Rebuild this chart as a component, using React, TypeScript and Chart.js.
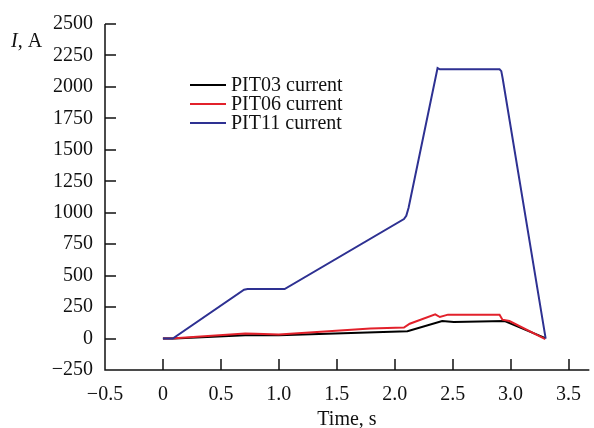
import React, { useEffect, useRef } from "react";
import { Chart, registerables } from "chart.js";

Chart.register(...registerables);

// ---- data ----
const pit03Time = [0, 0.1, 0.71, 1.0, 2.11, 2.41, 2.51, 2.95, 3.3];
const pit03Current = [0, 0, 26, 26, 58, 139, 131, 139, 3];

const pit06Time = [0, 0.1, 0.71, 0.8, 1.0, 1.79, 2.08, 2.13, 2.35, 2.39, 2.46, 2.905, 2.93, 2.99, 3.3];
const pit06Current = [0, 2, 40, 38, 32, 79, 87, 118, 192, 171, 190, 190, 150, 139, -5];

const pit11Time = [0, 0.085, 0.7, 0.73, 1.05, 2.08, 2.1, 2.12, 2.37, 2.39, 2.905, 2.92, 2.932, 3.303];
const pit11Current = [0, 0, 388, 393, 393, 950, 975, 1040, 2150, 2140, 2140, 2125, 2067, 0];

const seriesLabels = ["PIT03 current", "PIT06 current", "PIT11 current"];
const seriesColors = ["#000000", "#e2212b", "#2e3192"];

const xTickValues = [-0.5, 0, 0.5, 1.0, 1.5, 2.0, 2.5, 3.0, 3.5];
const yTickValues = [-250, 0, 250, 500, 750, 1000, 1250, 1500, 1750, 2000, 2250, 2500];

const xTitle = "Time, s";
const yTitleItalic = "I";
const yTitleRest = ", A";

const FONT_FAMILY = "'Liberation Serif', 'Times New Roman', serif";
const FONT_SIZE = 20;

function fmtX(v: number): string {
  if (v === 0) return "0";
  const s = Math.abs(v).toFixed(1);
  return v < 0 ? "\u2212" + s : s;
}
function fmtY(v: number): string {
  return v < 0 ? "\u2212" + Math.abs(v) : String(v);
}

function pts(t: number[], v: number[]) {
  return t.map((x, i) => ({ x, y: v[i] }));
}

const decorPlugin = {
  id: "decor",
  afterDraw(chart: any) {
    const { ctx, chartArea, scales } = chart;
    const xs = scales.x;
    const ys = scales.y;
    const left = chartArea.left;
    const bottom = chartArea.bottom;
    const tickLen = 11;
    ctx.save();
    ctx.strokeStyle = "#111";
    ctx.lineWidth = 1.5;
    ctx.beginPath();
    ctx.moveTo(left, ys.getPixelForValue(yTickValues[yTickValues.length - 1]));
    ctx.lineTo(left, bottom);
    ctx.lineTo(chartArea.right, bottom);
    ctx.stroke();
    ctx.beginPath();
    for (const v of yTickValues) {
      if (v === yTickValues[0]) continue;
      const py = Math.round(ys.getPixelForValue(v));
      ctx.moveTo(left, py);
      ctx.lineTo(left + tickLen, py);
    }
    for (const v of xTickValues) {
      if (v === xTickValues[0]) continue;
      const px = Math.round(xs.getPixelForValue(v));
      ctx.moveTo(px, bottom);
      ctx.lineTo(px, bottom - tickLen);
    }
    ctx.stroke();

    // legend
    ctx.font = `${FONT_SIZE}px ${FONT_FAMILY}`;
    ctx.textBaseline = "middle";
    ctx.textAlign = "left";
    const lx0 = 190, lx1 = 226, tx = 231, ly0 = 85, dy = 19;
    chart.data.datasets.forEach((ds: any, i: number) => {
      const y = ly0 + i * dy;
      ctx.strokeStyle = ds.borderColor;
      ctx.lineWidth = 2;
      ctx.beginPath();
      ctx.moveTo(lx0, y);
      ctx.lineTo(lx1, y);
      ctx.stroke();
      ctx.fillStyle = "#111";
      ctx.fillText(ds.label, tx, y + 1);
    });

    // y title
    ctx.textBaseline = "alphabetic";
    ctx.font = `italic ${FONT_SIZE}px ${FONT_FAMILY}`;
    ctx.fillText(yTitleItalic, 11, 47);
    const w = ctx.measureText(yTitleItalic).width;
    ctx.font = `${FONT_SIZE}px ${FONT_FAMILY}`;
    ctx.fillText(yTitleRest, 11 + w, 47);

    // x title
    ctx.textAlign = "center";
    ctx.fillText(xTitle, 347, 425);
    ctx.restore();
  },
};

export default function App() {
  const ref = useRef<HTMLCanvasElement | null>(null);
  useEffect(() => {
    if (!ref.current) return;
    const mk = (i: number, t: number[], v: number[], order: number) => ({
      label: seriesLabels[i],
      data: pts(t, v),
      borderColor: seriesColors[i],
      backgroundColor: seriesColors[i],
      borderWidth: 2,
      pointRadius: 0,
      tension: 0,
      fill: false,
      order,
    });
    const chart = new Chart(ref.current, {
      type: "line",
      data: {
        datasets: [
          mk(0, pit03Time, pit03Current, 3),
          mk(1, pit06Time, pit06Current, 2),
          mk(2, pit11Time, pit11Current, 1),
        ],
      },
      options: {
        animation: false,
        responsive: true,
        maintainAspectRatio: false,
        layout: { padding: { top: 22, right: 0, left: 0, bottom: 0 } },
        plugins: { legend: { display: false }, tooltip: { enabled: false } },
        scales: {
          x: {
            type: "linear",
            min: -0.5,
            max: 3.68,
            grid: { display: false, drawTicks: false },
            border: { display: false },
            afterBuildTicks: (s: any) => {
              s.ticks = xTickValues.map((value) => ({ value }));
            },
            afterFit: (s: any) => {
              s.height = 58;
            },
            ticks: {
              autoSkip: false,
              maxRotation: 0,
              padding: 13,
              color: "#111",
              font: { family: FONT_FAMILY, size: FONT_SIZE },
              callback: (v: any) => fmtX(Number(v)),
            },
          },
          y: {
            type: "linear",
            min: -250,
            max: 2500,
            grid: { display: false, drawTicks: false },
            border: { display: false },
            afterBuildTicks: (s: any) => {
              s.ticks = yTickValues.map((value) => ({ value }));
            },
            afterFit: (s: any) => {
              s.width = 105;
            },
            ticks: {
              autoSkip: false,
              padding: 12,
              color: "#111",
              font: { family: FONT_FAMILY, size: FONT_SIZE },
              callback: (v: any) => fmtY(Number(v)),
            },
          },
        },
      },
      plugins: [decorPlugin],
    } as any);
    return () => chart.destroy();
  }, []);
  return (
    <div style={{ position: "absolute", left: 0, top: 0, width: 594, height: 428, background: "#fff" }}>
      <canvas ref={ref} />
    </div>
  );
}
